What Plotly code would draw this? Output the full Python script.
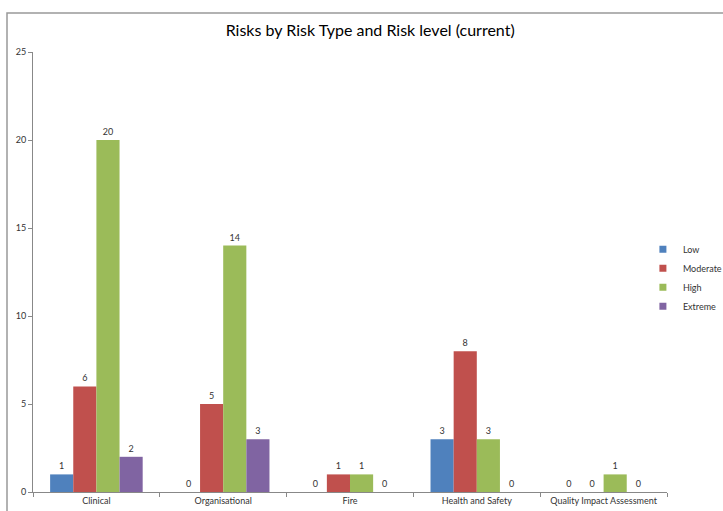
import plotly.graph_objects as go

categories = ["Clinical", "Organisational", "Fire", "Health and Safety", "Quality Impact Assessment"]
series_names = ["Low", "Moderate", "High", "Extreme"]
low = [1, 0, 0, 3, 0]
moderate = [6, 5, 1, 8, 0]
high = [20, 14, 1, 3, 1]
extreme = [2, 3, 0, 0, 0]
colors = ["#4F81BD", "#C0504D", "#9BBB59", "#8064A2"]
y_ticks = [0, 5, 10, 15, 20, 25]

font_family = "Lato, 'Open Sans', sans-serif"

fig = go.Figure()
for name, vals, col in zip(series_names, [low, moderate, high, extreme], colors):
    fig.add_trace(go.Bar(
        x=categories, y=vals, name=name,
        marker=dict(color=col, line=dict(width=0)),
        text=[str(v) for v in vals], textposition="outside",
        textfont=dict(size=9, color="#333333", family=font_family),
        cliponaxis=False, showlegend=False,
    ))
# legend entries with small square keys
for name, col in zip(series_names, colors):
    fig.add_trace(go.Scatter(
        x=[None], y=[None], mode="markers", name=name,
        marker=dict(symbol="square", size=7, color=col), showlegend=True,
    ))

fig.update_layout(
    width=723, height=511,
    paper_bgcolor="white", plot_bgcolor="white",
    margin=dict(l=33, r=56, t=52, b=19, autoexpand=False),
    barmode="group", bargap=0.27, bargroupgap=0,
    title=dict(text="Risks by Risk Type and Risk level (current)",
               x=0.512, xanchor="center", y=0.941, yanchor="middle",
               font=dict(size=16, family=font_family, color="#000000")),
    font=dict(family=font_family, size=9, color="#333333"),
    legend=dict(x=0.962, y=0.487, xanchor="left", yanchor="middle",
                font=dict(size=9, family=font_family, color="#333333"),
                itemwidth=30, tracegroupgap=0, bgcolor="rgba(0,0,0,0)"),
    showlegend=True,
)
fig.update_yaxes(range=[0, 25], tickvals=y_ticks, showgrid=False,
                 showline=True, linecolor="#888888", linewidth=1,
                 ticks="outside", ticklen=4, tickcolor="#888888",
                 tickfont=dict(size=9), zeroline=False)
fig.update_xaxes(showgrid=False, showline=True, linecolor="#888888", linewidth=1,
                 ticks="outside", ticklen=4, tickcolor="#888888",
                 tickson="boundaries", tickfont=dict(size=9))

fig.add_shape(type="rect", xref="paper", yref="paper",
              x0=(7 - 33) / 634, x1=1.3, y0=-0.3, y1=(492 - 13) / 440,
              line=dict(color="#999999", width=1.5), fillcolor="rgba(0,0,0,0)",
              layer="below")

fig.write_html("out.html")
